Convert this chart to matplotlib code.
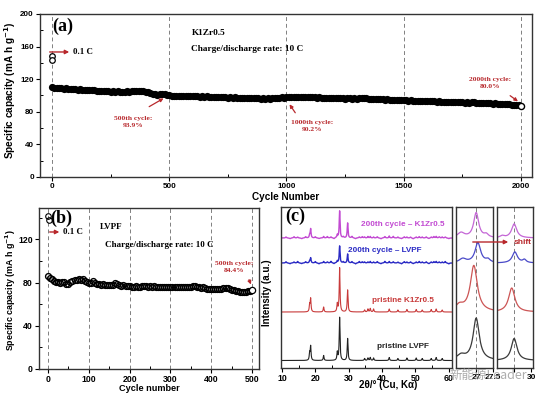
import matplotlib
matplotlib.use('Agg')
import matplotlib.pyplot as plt
import numpy as np
from matplotlib.ticker import MultipleLocator
from matplotlib.patches import FancyArrowPatch

plt.rcParams['font.family'] = ['Liberation Sans', 'DejaVu Sans']
plt.rcParams['font.weight'] = 'bold'

# ---- data: panel (a), K1Zr0.5, one point every 10 cycles ----
cyc_a = np.arange(0, 2001, 10)
cap_a = [110.5, 109.2, 109.8, 108.6, 109.1, 108.3, 108.8, 107.9, 108.4, 107.6, 107.9,
         107.2, 107.6, 106.8, 107.3, 106.5, 106.9, 106.2, 106.6, 105.9, 106.1,
         105.5, 105.9, 105.2, 105.6, 104.8, 105.3, 104.7, 105.1, 104.5, 104.9,
         104.6, 105.2, 104.8, 105.4, 105.0, 105.6, 105.3, 105.8, 105.1, 104.6,
         103.8, 102.9, 101.8, 102.4, 101.2, 101.9, 102.3, 101.4, 100.8, 100.5,
         99.8, 99.2, 98.9, 99.5, 99.1, 99.7, 99.3, 99.8, 99.4, 99.6,
         99.0, 99.3, 98.7, 99.1, 98.5, 98.9, 98.4, 98.7, 98.2, 98.5,
         97.9, 98.3, 97.8, 98.1, 97.5, 97.9, 97.4, 97.7, 97.2, 97.5,
         97.0, 97.3, 96.8, 97.1, 96.6, 96.9, 96.4, 96.7, 96.2, 96.5,
         96.1, 96.6, 96.3, 96.9, 97.3, 96.8, 97.4, 97.8, 97.2, 97.6,
         98.1, 97.6, 98.3, 97.9, 98.5, 98.1, 98.6, 98.2, 97.9, 98.3,
         97.8, 98.1, 97.5, 97.8, 97.2, 97.5, 97.0, 97.3, 96.8, 97.1,
         96.6, 96.9, 96.4, 96.7, 96.2, 96.5, 96.8, 96.3, 96.6, 96.1,
         96.5, 96.9, 97.2, 96.6, 96.1, 95.8, 96.0, 95.5, 95.7, 95.2,
         95.4, 94.9, 95.1, 94.6, 94.9, 94.4, 94.6, 94.1, 94.3, 93.9,
         94.1, 93.7, 93.9, 93.5, 93.7, 93.3, 93.5, 93.1, 93.3, 92.9,
         93.1, 92.7, 92.9, 92.5, 92.7, 92.3, 92.5, 92.1, 92.3, 91.9,
         92.1, 91.7, 91.9, 91.5, 91.7, 91.3, 91.6, 91.2, 91.5, 91.8,
         91.4, 91.0, 91.2, 90.7, 90.9, 90.4, 90.6, 90.1, 90.3, 89.8,
         89.9, 89.4, 89.6, 89.1, 89.3, 88.8, 88.9, 88.4, 88.2, 87.2]
first_a_x = [1, 2]
first_a_y = [148, 144]

# ---- data: panel (b), LVPF, one point every 5 cycles ----
cyc_b = np.arange(0, 501, 5)
cap_b = [86.5, 84.0, 83.0, 81.8, 80.6, 80.1, 79.5, 80.8, 80.2, 79.1, 78.8,
         80.2, 81.9, 82.8, 82.3, 83.0, 82.1, 82.9, 81.2, 80.1, 79.3,
         80.0, 81.1, 79.2, 78.6, 78.3, 78.0, 78.4, 77.9, 78.2, 77.8,
         78.1, 77.6, 79.6, 78.8, 77.5, 77.2, 77.6, 76.9, 76.7, 76.5,
         76.3, 76.1, 76.4, 75.9, 76.2, 76.8, 77.0, 76.6, 76.3, 76.5,
         76.1, 76.4, 76.0, 76.3, 75.9, 76.2, 76.0, 76.3, 75.8, 76.1,
         75.9, 76.2, 75.8, 76.1, 75.7, 76.0, 75.8, 76.1, 75.9, 76.0,
         76.4, 76.7, 76.2, 75.6, 75.3, 75.6, 75.0, 74.5, 74.2, 74.0,
         73.8, 74.2, 73.9, 74.3, 74.1, 74.8, 75.1, 74.6, 74.0, 73.4,
         72.8, 72.3, 71.8, 71.5, 71.2, 70.9, 71.3, 72.0, 72.6, 73.5]
first_b_x = [1, 2]
first_b_y = [142, 138]

# ---- data: panel (c), XRD peak lists (2theta, height) ----
peak_pos = [18.3, 18.6, 22.5, 26.6, 27.3, 29.7, 34.8, 35.8, 36.5, 37.5,
            42.2, 44.8, 47.5, 50.3, 52.1, 54.8, 56.3, 58.1]
h_lvpf = [7, 14, 5, 8, 43, 22, 2, 2.5, 3, 2.5, 3, 2, 2.5, 2.5, 2, 2, 3, 2]
h_k1zr = [7, 13, 5, 8, 44, 22, 2, 3, 3.5, 3, 3, 2, 2.5, 2.5, 2, 2.5, 3, 2]
h_lvpf_200 = [2, 5, 1.5, 2, 17, 9, 1, 1, 1.5, 1, 1.5, 1, 1, 1, 1, 1, 1.5, 1]
h_k1zr_200 = [3, 9, 1.5, 3, 27, 15, 1, 1.5, 1.5, 1, 2, 1, 1, 1, 1, 1, 1.5, 1]
# small wiggles of the cycled electrodes
wig_pos = [11.2, 12.4, 13.6, 14.7, 15.9, 17.1, 20.0, 21.1, 23.6, 24.7, 25.6, 28.4,
           31.0, 32.1, 33.2, 34.1, 38.6, 39.7, 40.9, 43.4, 45.9, 46.7, 48.6, 49.4,
           51.2, 53.3, 54.1, 55.6, 57.2, 59.0, 60.1]
wig_h_b = [1.2, -0.8, 1.0, 1.5, -0.7, 1.3, 1.4, -0.9, 1.1, 1.6, -0.8, 1.2,
           1.3, -1.0, 1.5, 1.1, 1.4, -0.8, 1.6, 1.2, -0.9, 1.4, 1.1, -0.7,
           1.5, 1.2, -0.8, 1.3, 1.0, 1.5, -0.9]
wig_h_m = [1.0, -0.7, 1.3, 0.9, -0.8, 1.2, 1.1, -0.6, 1.4, 1.0, -0.9, 1.1,
           1.5, -0.8, 1.0, 1.3, 1.2, -0.9, 1.4, 1.6, -0.7, 1.2, 0.9, -0.8,
           1.3, 1.1, -0.6, 1.4, 1.2, 1.0, -0.7]
base_c = {'lvpf': 7.5, 'k1zr': 56, 'lvpf200': 105, 'k1zr200': 130}

# inset peaks: (position, height, fwhm)
ins1 = {'lvpf': [(26.55, 5, 0.3), (27.00, 42, 0.22)],
        'k1zr': [(26.50, 6, 0.3), (26.93, 46, 0.25)],
        'lvpf200': [(26.60, 4, 0.25), (27.05, 20, 0.2), (27.35, 3, 0.15)],
        'k1zr200': [(26.55, 5, 0.25), (27.00, 25, 0.18), (27.30, 3, 0.15)]}
ins2 = {'lvpf': [(29.50, 22, 0.2)],
        'k1zr': [(29.43, 24, 0.22)],
        'lvpf200': [(29.52, 11, 0.18), (29.80, 3, 0.12)],
        'k1zr200': [(29.50, 14, 0.18), (29.15, 2, 0.15)]}

col = {'lvpf': '#222222', 'k1zr': '#c83a3a', 'lvpf200': '#2a2ac4', 'k1zr200': '#c24ad2'}
ins_col = {'lvpf': '#3a3a3a', 'k1zr': '#cc5555', 'lvpf200': '#4a4ac8', 'k1zr200': '#c466d6'}
red = '#b8282c'
serif = 'Liberation Serif'


def lor(x, x0, h, w):
    return h / (1 + ((x - x0) / (w / 2)) ** 2)


def style(ax, ls=6):
    for s in ax.spines.values():
        s.set_linewidth(1.0)
        s.set_color('#333333')
    ax.tick_params(which='major', direction='out', length=3, width=0.8, labelsize=ls, pad=1.5)
    ax.tick_params(which='minor', direction='in', length=2, width=0.7)


fig = plt.figure(figsize=(5.5, 3.99), dpi=100)
ylab = 'Specific capacity (mA h g$^{\\mathbf{-1}}$)'

# ================= panel (a) =================
ax_a = fig.add_axes([40/550, 1-177/399, 492/550, 163/399])
style(ax_a, 5.8)
for xv in [0, 500, 1000, 1500, 2000]:
    ax_a.axvline(xv, color='#808080', ls=(0, (4, 3)), lw=0.7, zorder=1)
ax_a.plot(cyc_a[:-1], cap_a[:-1], 'o', color='black', ms=5.2, mew=0, zorder=3)
ax_a.plot(cyc_a[-1:], cap_a[-1:], 'o', mfc='white', mec='black', ms=4.4, mew=1.0, zorder=4)
ax_a.plot(first_a_x, first_a_y, 'o', mfc='white', mec='black', ms=4, mew=0.9, zorder=4)
ax_a.set_xlim(-51, 2047)
ax_a.set_ylim(0, 200)
ax_a.xaxis.set_major_locator(MultipleLocator(500))
ax_a.xaxis.set_minor_locator(MultipleLocator(250))
ax_a.yaxis.set_major_locator(MultipleLocator(40))
ax_a.yaxis.set_minor_locator(MultipleLocator(20))
ax_a.set_xlabel('Cycle Number', fontsize=7.2, fontweight='bold', labelpad=1)
ax_a.set_ylabel(ylab, fontsize=7.2, fontweight='bold')
ax_a.yaxis.set_label_coords(-0.045, 0.53)

ax_a.text(0.047, 0.926, '(a)', transform=ax_a.transAxes, family=serif, fontsize=13,
          fontweight='bold', ha='center', va='center')
ax_a.text(0.309, 0.883, 'K1Zr0.5', transform=ax_a.transAxes, family=serif, fontsize=6.7,
          fontweight='bold', va='center')
ax_a.text(0.307, 0.785, 'Charge/discharge rate: 10 C', transform=ax_a.transAxes, family=serif,
          fontsize=6.7, fontweight='bold', va='center')
ax_a.annotate('', xy=(0.065, 0.767), xytext=(0.014, 0.767), xycoords='axes fraction',
              arrowprops=dict(arrowstyle='-|>', color=red, lw=1.0, mutation_scale=6))
ax_a.text(0.068, 0.767, '0.1 C', transform=ax_a.transAxes, family=serif, fontsize=6.4,
          fontweight='bold', va='center')
for txt, tpos, a0, a1 in [('500th cycle:\n93.9%', (0.189, 0.337), (0.217, 0.423), (0.256, 0.491)),
                          ('1000th cycle:\n90.2%', (0.553, 0.313), (0.522, 0.380), (0.504, 0.460)),
                          ('2000th cycle:\n80.0%', (0.915, 0.577), (0.951, 0.509), (0.976, 0.454))]:
    ax_a.text(tpos[0], tpos[1], txt, transform=ax_a.transAxes, family=serif, fontsize=5.4,
              fontweight='bold', color=red, ha='center', va='center', linespacing=1.4)
    ax_a.annotate('', xy=a1, xytext=a0, xycoords='axes fraction',
                  arrowprops=dict(arrowstyle='-|>', color=red, lw=0.9, mutation_scale=5))

# ================= panel (b) =================
ax_b = fig.add_axes([39/550, 1-369/399, 220/550, 161/399])
style(ax_b, 6.3)
for xv in [0, 100, 200, 300, 400, 500]:
    ax_b.axvline(xv, color='#808080', ls=(0, (4, 3)), lw=0.7, zorder=1)
ax_b.plot(cyc_b[:-1], cap_b[:-1], 'o', mfc='none', mec='black', ms=4.2, mew=1.0, zorder=3)
ax_b.plot(cyc_b[-1:], cap_b[-1:], 'o', mfc='white', mec='black', ms=4.5, mew=0.9, zorder=4)
ax_b.plot(first_b_x, first_b_y, 'o', mfc='none', mec='black', ms=4, mew=0.8, zorder=3)
ax_b.set_xlim(-22, 517)
ax_b.set_ylim(0, 149)
ax_b.xaxis.set_major_locator(MultipleLocator(100))
ax_b.xaxis.set_minor_locator(MultipleLocator(50))
ax_b.yaxis.set_major_locator(MultipleLocator(40))
ax_b.yaxis.set_minor_locator(MultipleLocator(20))
ax_b.set_xlabel('Cycle number', fontsize=6.6, fontweight='bold', labelpad=0)
ax_b.set_ylabel(ylab, fontsize=6.4, fontweight='bold')
ax_b.yaxis.set_label_coords(-0.095, 0.49)
ax_b.text(0.10, 0.938, '(b)', transform=ax_b.transAxes, family=serif, fontsize=13,
          fontweight='bold', ha='center', va='center')
ax_b.text(0.277, 0.882, 'LVPF', transform=ax_b.transAxes, family=serif, fontsize=6.5,
          fontweight='bold', va='center')
ax_b.text(0.30, 0.77, 'Charge/discharge rate: 10 C', transform=ax_b.transAxes, family=serif,
          fontsize=6.5, fontweight='bold', va='center')
ax_b.annotate('', xy=(0.105, 0.851), xytext=(0.036, 0.851), xycoords='axes fraction',
              arrowprops=dict(arrowstyle='-|>', color=red, lw=1.0, mutation_scale=6))
ax_b.text(0.108, 0.851, '0.1 C', transform=ax_b.transAxes, family=serif, fontsize=6.4,
          fontweight='bold', va='center')
ax_b.text(0.886, 0.635, '500th cycle:\n84.4%', transform=ax_b.transAxes, family=serif,
          fontsize=5.4, fontweight='bold', color=red, ha='center', va='center', linespacing=1.4)
ax_b.annotate('', xy=(0.968, 0.509), xytext=(0.95, 0.571), xycoords='axes fraction',
              arrowprops=dict(arrowstyle='-|>', color=red, lw=0.9, mutation_scale=5))

# ================= panel (c) =================
ax_c = fig.add_axes([281/550, 1-368/399, 171/550, 161/399])
style(ax_c, 6.3)
tt = np.linspace(9.7, 61.05, 4000)


def pattern(heights, wig=None):
    y = np.zeros_like(tt)
    for p, h in zip(peak_pos, heights):
        y += lor(tt, p, h, 0.28)
    if wig is not None:
        for p, h in zip(wig_pos, wig):
            y += lor(tt, p, h, 0.35)
    return y


ax_c.plot(tt, base_c['lvpf'] + pattern(h_lvpf), color=col['lvpf'], lw=0.8)
ax_c.plot(tt, base_c['k1zr'] + pattern(h_k1zr), color=col['k1zr'], lw=0.8)
ax_c.plot(tt, base_c['lvpf200'] + pattern(h_lvpf_200, wig_h_b), color=col['lvpf200'], lw=1.0)
ax_c.plot(tt, base_c['k1zr200'] + pattern(h_k1zr_200, wig_h_m), color=col['k1zr200'], lw=1.0)
ax_c.set_xlim(9.7, 61.05)
ax_c.set_ylim(0, 161)
ax_c.set_yticks([])
ax_c.xaxis.set_major_locator(MultipleLocator(10))
ax_c.xaxis.set_minor_locator(MultipleLocator(5))
ax_c.set_xlabel('2θ/° (Cu, Kα)', fontsize=7, fontweight='bold', labelpad=0)
ax_c.xaxis.set_label_coords(0.626, -0.075)
ax_c.set_ylabel('Intensity (a.u.)', fontsize=7, fontweight='bold')
ax_c.yaxis.set_label_coords(-0.055, 0.47)
ax_c.text(0.085, 0.944, '(c)', transform=ax_c.transAxes, family=serif, fontsize=13,
          fontweight='bold', ha='center', va='center')
for key, txt, xy in [('k1zr200', '200th cycle – K1Zr0.5', (46.2, 143)),
                     ('lvpf200', '200th cycle – LVPF', (40.8, 118)),
                     ('k1zr', 'pristine K1Zr0.5', (46.2, 67)),
                     ('lvpf', 'pristine LVPF', (46.2, 21))]:
    ax_c.text(xy[0], xy[1], txt, color=col[key], fontsize=5.9, fontweight='bold',
              ha='center', va='center')

# insets
for rect, lims, ticks, labels, peaks, dash in [
        ([456/550, 1-368/399, 37/550, 161/399], (26.4, 27.5), [27, 27.5], ['27', '27.5'], ins1, 27.0),
        ([497/550, 1-368/399, 36/550, 161/399], (29.0, 30.05), [29.5, 30], ['', '30'], ins2, 29.5)]:
    ax_i = fig.add_axes(rect)
    style(ax_i, 6)
    xx = np.linspace(lims[0], lims[1], 400)
    for key in ['lvpf', 'k1zr', 'lvpf200', 'k1zr200']:
        y = np.full_like(xx, base_c[key])
        for p, h, w in peaks[key]:
            y += lor(xx, p, h, w)
        ax_i.plot(xx, y, color=ins_col[key], lw=0.9)
    ax_i.axvline(dash, color='#808080', ls=(0, (4, 3)), lw=0.7, zorder=0)
    ax_i.set_xlim(*lims)
    ax_i.set_ylim(0, 161)
    ax_i.set_yticks([])
    ax_i.set_xticks(ticks)
    ax_i.set_xticklabels(labels)

fig.patches.append(FancyArrowPatch(
    (470/550, 1-242/399), (511/550, 1-242/399), transform=fig.transFigure,
    arrowstyle='-|>', color=red, lw=1.0, mutation_scale=6))
fig.text(514/550, 1-242/399, 'shift', color=red, fontsize=6, fontweight='bold', va='center')

# watermark
fig.text(488/550, 1-376/399, '新能源Leader', family=['Noto Sans CJK SC', 'DejaVu Sans'],
         fontsize=9, color='#8a8a8a', alpha=0.7, ha='center', va='center', fontweight='normal')

fig.savefig('out.png', dpi=100)
